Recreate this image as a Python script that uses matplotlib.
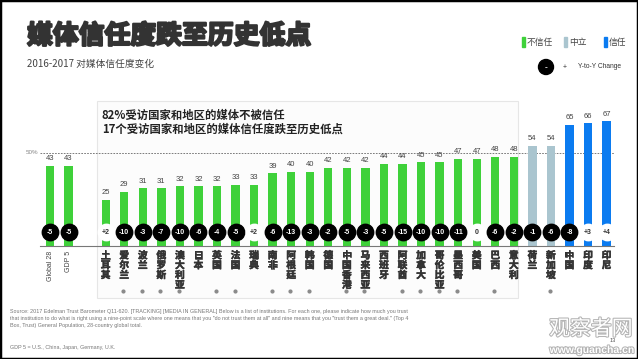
import matplotlib.pyplot as plt
from matplotlib.patches import Rectangle, Ellipse
import matplotlib.patheffects as pe

plt.rcParams['font.family'] = ['Noto Sans CJK SC', 'DejaVu Sans']

# aggregate bars on the left
agg_labels = ["Global 28", "GDP 5"]
agg_values = [43, 43]
agg_change = [-5, -5]

# countries, distrust/neutral/trust share 2017 and change vs 2016
countries = ["土耳其", "爱尔兰", "波兰", "俄罗斯", "澳大利亚", "日本", "英国", "法国",
             "瑞典", "南非", "阿根廷", "韩国", "德国", "中国香港", "马来西亚", "西班牙",
             "阿联酋", "加拿大", "哥伦比亚", "墨西哥", "美国", "巴西", "意大利",
             "荷兰", "新加坡", "中国", "印度", "印尼"]
values = [25, 29, 31, 31, 32, 32, 32, 33, 33, 39, 40, 40, 42, 42, 42, 44, 44, 45, 45,
          47, 47, 48, 48, 54, 54, 65, 66, 67]
change = [2, -10, -3, -7, -10, -6, -4, -5, 2, -6, -13, -3, -2, -5, -3, -5, -15, -10, -10,
          -11, 0, -6, -2, -1, -6, -8, 3, 4]
category = ["不信任"] * 23 + ["中立"] * 2 + ["信任"] * 3
all_time_low = ["爱尔兰", "波兰", "俄罗斯", "澳大利亚", "英国", "法国", "南非", "阿根廷",
                "韩国", "中国香港", "马来西亚", "阿联酋", "加拿大", "哥伦比亚", "墨西哥",
                "巴西", "新加坡"]

colors = {"不信任": "#3fd13a", "中立": "#aac5cf", "信任": "#0b7bf0"}

fig = plt.figure(figsize=(6.38, 3.59), dpi=100)
W, H = 638, 359

def fx(px):
    return px / W

def fy(py):
    return 1 - py / H

# light panel behind the text/bars
fig.patches.append(Rectangle((fx(97), fy(298)), fx(421), (298 - 101) / H,
                             transform=fig.transFigure, facecolor="#fcfcfc",
                             edgecolor="#e6e6e6", lw=0.8, zorder=-5))

ax = fig.add_axes([fx(40), fy(246), fx(574), 130.2 / H])
ax.patch.set_alpha(0)
ax.set_xlim(-0.54, 30.4)
ax.set_ylim(0, 70)

xa = [0, 1]
xc = [3 + i for i in range(len(countries))]

ax.bar(xa, agg_values, width=0.45, color=colors["不信任"], zorder=2)
ax.bar(xc, values, width=0.45, color=[colors[c] for c in category], zorder=2)

ax.axhline(50, color="#666666", lw=0.6, ls=(0, (2, 1.5)), zorder=1)
ax.text(-0.62, 50, "50%", ha="right", va="center", fontsize=4.5, color="#888888",
        family="Liberation Sans")

def fmt(v):
    return "+%d" % v if v > 0 else "%d" % v

for x, v, c in list(zip(xa, agg_values, agg_change)) + list(zip(xc, values, change)):
    ax.text(x, v + 2, str(v), ha="center", va="bottom", fontsize=5.5, color="#444444",
            family="Liberation Sans")
    face = "white" if c >= 0 else "black"
    tc = "#333333" if c >= 0 else "white"
    ax.scatter([x], [7.5], s=140, color=face, zorder=3, clip_on=False)
    ax.text(x, 7.5, fmt(c), ha="center", va="center", fontsize=5, color=tc,
            fontweight="bold", family="Liberation Sans", zorder=4)

for x, lab in zip(xa, agg_labels):
    ax.text(x, -2.6, lab, rotation=90, ha="center", va="top", fontsize=5,
            color="#444444", family="Liberation Sans")

for x, name in zip(xc, countries):
    ax.text(x, -2.4, "\n".join(name), ha="center", va="top", fontsize=7,
            color="#333333", fontweight="bold", linespacing=0.98,
            path_effects=[pe.withStroke(linewidth=0.4, foreground="#333333")])
    if name in all_time_low:
        ax.scatter([x - 0.05], [-24.2], s=4, color="#8a8a8a", clip_on=False)

for s in ["top", "left", "right"]:
    ax.spines[s].set_visible(False)
ax.spines["bottom"].set_color("#777777")
ax.spines["bottom"].set_linewidth(0.8)
ax.set_xticks([])
ax.set_yticks([])

# titles
fig.text(fx(27), fy(36), "媒体信任度跌至历史低点", fontsize=18.6, fontweight="bold",
         color="#333333", va="center",
         path_effects=[pe.withStroke(linewidth=1.6, foreground="#333333")])
fig.text(fx(27), fy(64), "2016-2017 对媒体信任度变化", fontsize=7, color="#444444",
         va="center")
fig.text(fx(102), fy(115), "82%受访国家和地区的媒体不被信任", fontsize=8.2,
         fontweight="bold", color="#222222", va="center")
fig.text(fx(102), fy(129), "17个受访国家和地区的媒体信任度跌至历史低点", fontsize=8.2,
         fontweight="bold", color="#222222", va="center")

# legend
for px, lab, key in [(522, "不信任", "不信任"), (564, "中立", "中立"), (604, "信任", "信任")]:
    fig.patches.append(Rectangle((fx(px), fy(47)), fx(3), 10 / H, transform=fig.transFigure,
                                 color=colors[key]))
    fig.text(fx(px + 5), fy(42), lab, fontsize=6.3, color="#444444", va="center")
fig.patches.append(Ellipse((fx(546), fy(67)), fx(15), 15 / H, transform=fig.transFigure,
                           color="black"))
fig.text(fx(546), fy(67.5), "-", ha="center", va="center", fontsize=6, color="white",
         fontweight="bold", family="Liberation Sans")
fig.text(fx(565), fy(67), "+", ha="center", va="center", fontsize=5, color="#333333",
         family="Liberation Sans")
fig.text(fx(578), fy(67), "Y-to-Y Change", ha="left", va="center", fontsize=4.8,
         color="#333333", family="Liberation Sans")

# footnotes
note = ("Source: 2017 Edelman Trust Barometer Q11-620. [TRACKING] [MEDIA IN GENERAL] Below is a list of institutions. For each one, please indicate how much you trust\n"
        "that institution to do what is right using a nine-point scale where one means that you \"do not trust them at all\" and nine means that you \"trust them a great deal.\" (Top 4\n"
        "Box, Trust) General Population, 28-country global total.")
fig.text(fx(10), fy(309), note, fontsize=3.9, color="#777777", va="top",
         family="Liberation Sans", linespacing=1.45)
fig.text(fx(10), fy(348), "GDP 5 = U.S., China, Japan, Germany, U.K.", fontsize=3.9,
         color="#777777", va="center", family="Liberation Sans")

# watermark
halo = [pe.withStroke(linewidth=1.5, foreground="#b4b4b4")]
fig.text(fx(591), fy(329), "观察者网", ha="center", va="center", fontsize=15,
         color="white", path_effects=halo)
fig.text(fx(592), fy(350), "www.guancha.cn", ha="center", va="center", fontsize=7.5,
         color="white", fontweight="bold", path_effects=halo, family="Liberation Sans")
fig.text(fx(613), fy(341), "13", ha="center", va="center", fontsize=4, color="#555555",
         family="Liberation Sans")

# frame
fig.patches.append(Rectangle((0, 0), 1, 1, transform=fig.transFigure, fill=False,
                             edgecolor="black", lw=2.5))

fig.savefig("out.png", dpi=100)
